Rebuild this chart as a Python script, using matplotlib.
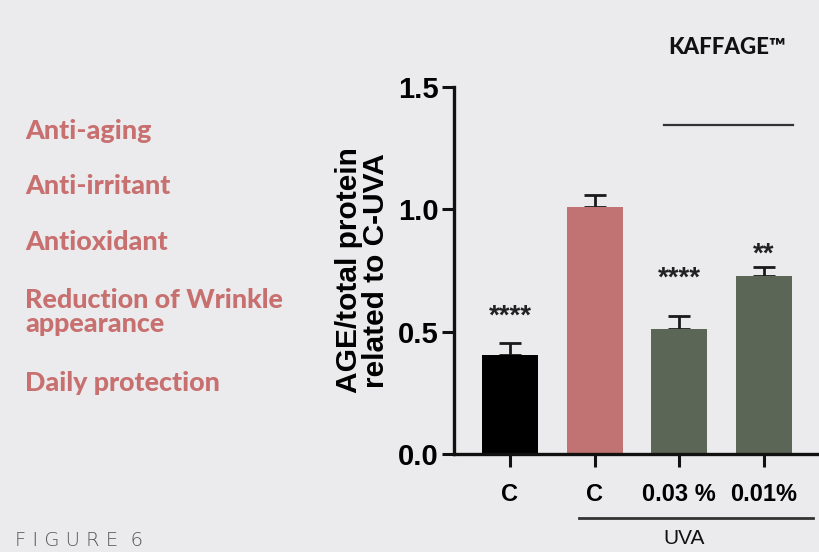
import matplotlib.pyplot as plt
import numpy as np

# data
groups = ["C", "C", "0.03 %", "0.01%"]
values = [0.405, 1.01, 0.51, 0.727]
errors = [0.05, 0.05, 0.055, 0.036]
stars = ["****", "", "****", "**"]
star_y = [0.56, None, 0.715, 0.815]
bar_colors = ["#000000", "#c07372", "#5b6656", "#5b6656"]
claims = ["Anti-aging", "Anti-irritant", "Antioxidant",
          "Reduction of Wrinkle\nappearance", "Daily protection"]
claim_y = [131, 186, 242, 312, 383]

bg = "#ebebed"
fig = plt.figure(figsize=(8.2, 5.52), dpi=100, facecolor=bg)
ax = fig.add_axes([0.5537, 0.1775, 0.4463, 0.665])
ax.set_facecolor(bg)

x = np.arange(len(groups))
ax.bar(x, values, width=0.66, color=bar_colors, zorder=2)
ax.errorbar(x, values, yerr=[np.zeros(len(errors)), errors], fmt="none",
            ecolor="#1a1a1a", elinewidth=2, capsize=8, capthick=2, zorder=1)

for xi, s, sy in zip(x, stars, star_y):
    if s:
        ax.text(xi, sy, s, ha="center", va="center", fontsize=20,
                fontweight="bold", family="Liberation Sans", color="#222222")

ax.set_xlim(-0.66, 3.66)
ax.set_ylim(0, 1.5)
ax.set_yticks([0, 0.5, 1.0, 1.5])
ax.set_yticklabels(["0.0", "0.5", "1.0", "1.5"])
ax.set_xticks(x)
ax.set_xticklabels(groups)
for lab in ax.get_xticklabels() + ax.get_yticklabels():
    lab.set_family("Liberation Sans")
    lab.set_fontweight("bold")
ax.tick_params(axis="both", width=2.2, length=9, color="#111111")
ax.tick_params(axis="y", labelsize=21, pad=2)
ax.tick_params(axis="x", labelsize=17, pad=12)

for side in ["top", "right"]:
    ax.spines[side].set_visible(False)
for side in ["left", "bottom"]:
    ax.spines[side].set_linewidth(2.4)
    ax.spines[side].set_color("#111111")

ax.set_ylabel("AGE/total protein\nrelated to C-UVA", fontsize=21.5,
              fontweight="bold", family="Liberation Sans", labelpad=6,
              linespacing=0.95)

# lines
ax.plot([1.82, 3.34], [1.346, 1.346], color="#333333", lw=1.6, clip_on=False)
ax.plot([0.82, 3.58], [-0.262, -0.262], color="#333333", lw=2, clip_on=False)
ax.text(2.05, -0.345, "UVA", ha="center", va="center", fontsize=15,
        family="Liberation Sans", color="#111111")

# side text
for t, yy in zip(claims, claim_y):
    fig.text(25 / 820, 1 - yy / 552, t, ha="left", va="center", fontsize=19.4,
             fontweight=900, family="Lato", color="#c8706f", linespacing=1.0)

fig.text(727 / 820, 1 - 47 / 552, "KAFFAGE\u2122", ha="center", va="center",
         fontsize=16, fontweight=900, family="Lato", color="#111111")
fig.text(15 / 820, 1 - 541 / 552, "F I G U R E  6", ha="left", va="center",
         fontsize=14, family="DejaVu Sans", fontweight="light", color="#555555")

plt.savefig("out.png", dpi=100, facecolor=bg)
